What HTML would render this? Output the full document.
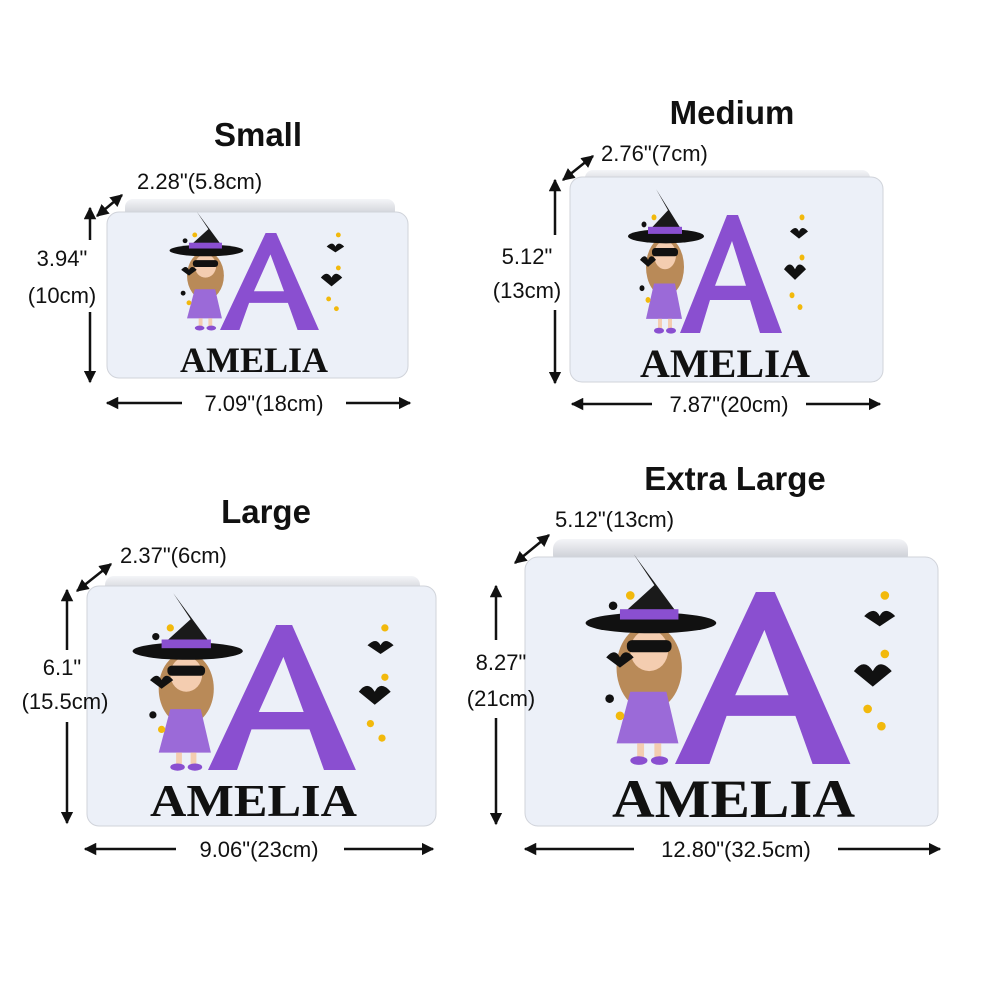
<!DOCTYPE html>
<html><head><meta charset="utf-8"><style>
html,body{margin:0;padding:0;background:#fff;}
svg{display:block}
.t{font-family:"Liberation Sans",sans-serif;font-weight:bold;font-size:33px;fill:#111;text-anchor:middle}
.d{font-family:"Liberation Sans",sans-serif;font-size:22px;fill:#111}
.n{font-family:"Liberation Serif",serif;font-weight:900;fill:#111}
</style></head><body>
<svg width="1000" height="1000" viewBox="0 0 1000 1000" xmlns="http://www.w3.org/2000/svg">
<defs>
<marker id="ah" viewBox="0 0 10 10" refX="9" refY="5" markerWidth="5" markerHeight="5" orient="auto-start-reverse"><path d="M0,0L10,5L0,10z" fill="#111"/></marker>
<linearGradient id="lid" x1="0" y1="0" x2="0" y2="1"><stop offset="0" stop-color="#f4f5f8"/><stop offset="1" stop-color="#bfc2ca"/></linearGradient>
<g id="art">
  <path d="M0,100 L20,100 L30,72 L70,72 L80,100 L102,100 L58,0 L47,0 Z M35,60 L66,60 L52,22 Z" fill="#8a4fd0" fill-rule="evenodd"/>
  <ellipse cx="-15" cy="44" rx="19" ry="25" fill="#b98a58"/>
  <ellipse cx="-15" cy="34" rx="11" ry="12" fill="#f4cdb0"/>
  <rect x="-28" y="28" width="26" height="7" rx="3" fill="#111"/>
  <polygon points="-34,16 4,16 -24,-22 -12,-4" fill="#1a1a1a"/>
  <ellipse cx="-14" cy="18" rx="38" ry="6" fill="#111"/>
  <rect x="-32" y="10" width="34" height="6" fill="#8a4fd0"/>
  <polygon points="-26,58 -5,58 2,88 -34,88" fill="#9b6ad8"/>
  <rect x="-22" y="88" width="4" height="9" fill="#f4cdb0"/><rect x="-12" y="88" width="4" height="9" fill="#f4cdb0"/>
  <ellipse cx="-21" cy="98" rx="5" ry="2.5" fill="#8a4fd0"/><ellipse cx="-9" cy="98" rx="5" ry="2.5" fill="#8a4fd0"/>
  <path d="M-40,38 q5,-6 8,0 q3,-6 8,0 l-8,6z" fill="#111"/>
  <path d="M110,14 q6,-6 9,0 q3,-6 9,0 l-9,6z" fill="#111"/>
  <path d="M104,46 q6,-8 11,0 q4,-8 11,0 l-11,9z" fill="#111"/>
  <circle cx="-36" cy="8" r="2.5" fill="#111"/><circle cx="-38" cy="62" r="2.5" fill="#111"/>
  <circle cx="-32" cy="72" r="2.5" fill="#f2b90c"/><circle cx="-26" cy="2" r="2.5" fill="#f2b90c"/>
  <circle cx="122" cy="2" r="2.5" fill="#f2b90c"/><circle cx="122" cy="36" r="2.5" fill="#f2b90c"/>
  <circle cx="112" cy="68" r="2.5" fill="#f2b90c"/><circle cx="120" cy="78" r="2.5" fill="#f2b90c"/>
</g>
</defs>

<!-- SMALL -->
<text class="t" x="258" y="146">Small</text>
<rect x="125" y="199" width="270" height="22" rx="8" fill="url(#lid)"/>
<rect x="107" y="212" width="301" height="166" rx="12" fill="#ecf0f8" stroke="#d0d3da"/>
<use href="#art" transform="translate(220,233) scale(0.97)"/>
<text class="n" x="180" y="372" font-size="36" textLength="148" lengthAdjust="spacingAndGlyphs">AMELIA</text>
<line x1="97" y1="216" x2="122" y2="195" stroke="#111" stroke-width="2.5" marker-start="url(#ah)" marker-end="url(#ah)"/>
<text class="d" x="137" y="189">2.28"(5.8cm)</text>
<line x1="90" y1="240" x2="90" y2="208" stroke="#111" stroke-width="2.5" marker-end="url(#ah)"/>
<line x1="90" y1="312" x2="90" y2="382" stroke="#111" stroke-width="2.5" marker-end="url(#ah)"/>
<text class="d" x="62" y="266" text-anchor="middle">3.94"</text>
<text class="d" x="62" y="303" text-anchor="middle">(10cm)</text>
<line x1="182" y1="403" x2="107" y2="403" stroke="#111" stroke-width="2.5" marker-end="url(#ah)"/>
<line x1="346" y1="403" x2="410" y2="403" stroke="#111" stroke-width="2.5" marker-end="url(#ah)"/>
<text class="d" x="264" y="411" text-anchor="middle">7.09"(18cm)</text>

<!-- MEDIUM -->
<text class="t" x="732" y="124">Medium</text>
<rect x="585" y="170" width="285" height="20" rx="8" fill="url(#lid)"/>
<rect x="570" y="177" width="313" height="205" rx="12" fill="#ecf0f8" stroke="#d0d3da"/>
<use href="#art" transform="translate(680,215) scale(1.0,1.18)"/>
<text class="n" x="640" y="377" font-size="40" textLength="170" lengthAdjust="spacingAndGlyphs">AMELIA</text>
<line x1="563" y1="180" x2="593" y2="156" stroke="#111" stroke-width="2.5" marker-start="url(#ah)" marker-end="url(#ah)"/>
<text class="d" x="601" y="161">2.76"(7cm)</text>
<line x1="555" y1="235" x2="555" y2="180" stroke="#111" stroke-width="2.5" marker-end="url(#ah)"/>
<line x1="555" y1="310" x2="555" y2="383" stroke="#111" stroke-width="2.5" marker-end="url(#ah)"/>
<text class="d" x="527" y="264" text-anchor="middle">5.12"</text>
<text class="d" x="527" y="298" text-anchor="middle">(13cm)</text>
<line x1="652" y1="404" x2="572" y2="404" stroke="#111" stroke-width="2.5" marker-end="url(#ah)"/>
<line x1="806" y1="404" x2="880" y2="404" stroke="#111" stroke-width="2.5" marker-end="url(#ah)"/>
<text class="d" x="729" y="412" text-anchor="middle">7.87"(20cm)</text>

<!-- LARGE -->
<text class="t" x="266" y="523">Large</text>
<rect x="105" y="576" width="315" height="22" rx="9" fill="url(#lid)"/>
<rect x="87" y="586" width="349" height="240" rx="12" fill="#ecf0f8" stroke="#d0d3da"/>
<use href="#art" transform="translate(208,625) scale(1.45)"/>
<text class="n" x="150" y="816" font-size="46" textLength="207" lengthAdjust="spacingAndGlyphs">AMELIA</text>
<line x1="77" y1="591" x2="111" y2="564" stroke="#111" stroke-width="2.5" marker-start="url(#ah)" marker-end="url(#ah)"/>
<text class="d" x="120" y="563">2.37"(6cm)</text>
<line x1="67" y1="650" x2="67" y2="590" stroke="#111" stroke-width="2.5" marker-end="url(#ah)"/>
<line x1="67" y1="722" x2="67" y2="823" stroke="#111" stroke-width="2.5" marker-end="url(#ah)"/>
<text class="d" x="62" y="675" text-anchor="middle">6.1"</text>
<text class="d" x="65" y="709" text-anchor="middle">(15.5cm)</text>
<line x1="176" y1="849" x2="85" y2="849" stroke="#111" stroke-width="2.5" marker-end="url(#ah)"/>
<line x1="344" y1="849" x2="433" y2="849" stroke="#111" stroke-width="2.5" marker-end="url(#ah)"/>
<text class="d" x="259" y="857" text-anchor="middle">9.06"(23cm)</text>

<!-- XL -->
<text class="t" x="735" y="490">Extra Large</text>
<rect x="553" y="539" width="355" height="26" rx="10" fill="url(#lid)"/>
<rect x="525" y="557" width="413" height="269" rx="13" fill="#ecf0f8" stroke="#d0d3da"/>
<use href="#art" transform="translate(675,592) scale(1.72)"/>
<text class="n" x="612" y="817" font-size="54" textLength="243" lengthAdjust="spacingAndGlyphs">AMELIA</text>
<line x1="515" y1="563" x2="549" y2="535" stroke="#111" stroke-width="2.5" marker-start="url(#ah)" marker-end="url(#ah)"/>
<text class="d" x="555" y="527">5.12"(13cm)</text>
<line x1="496" y1="640" x2="496" y2="586" stroke="#111" stroke-width="2.5" marker-end="url(#ah)"/>
<line x1="496" y1="718" x2="496" y2="824" stroke="#111" stroke-width="2.5" marker-end="url(#ah)"/>
<text class="d" x="501" y="670" text-anchor="middle">8.27"</text>
<text class="d" x="501" y="706" text-anchor="middle">(21cm)</text>
<line x1="634" y1="849" x2="525" y2="849" stroke="#111" stroke-width="2.5" marker-end="url(#ah)"/>
<line x1="838" y1="849" x2="940" y2="849" stroke="#111" stroke-width="2.5" marker-end="url(#ah)"/>
<text class="d" x="736" y="857" text-anchor="middle">12.80"(32.5cm)</text>
</svg>
</body></html>
